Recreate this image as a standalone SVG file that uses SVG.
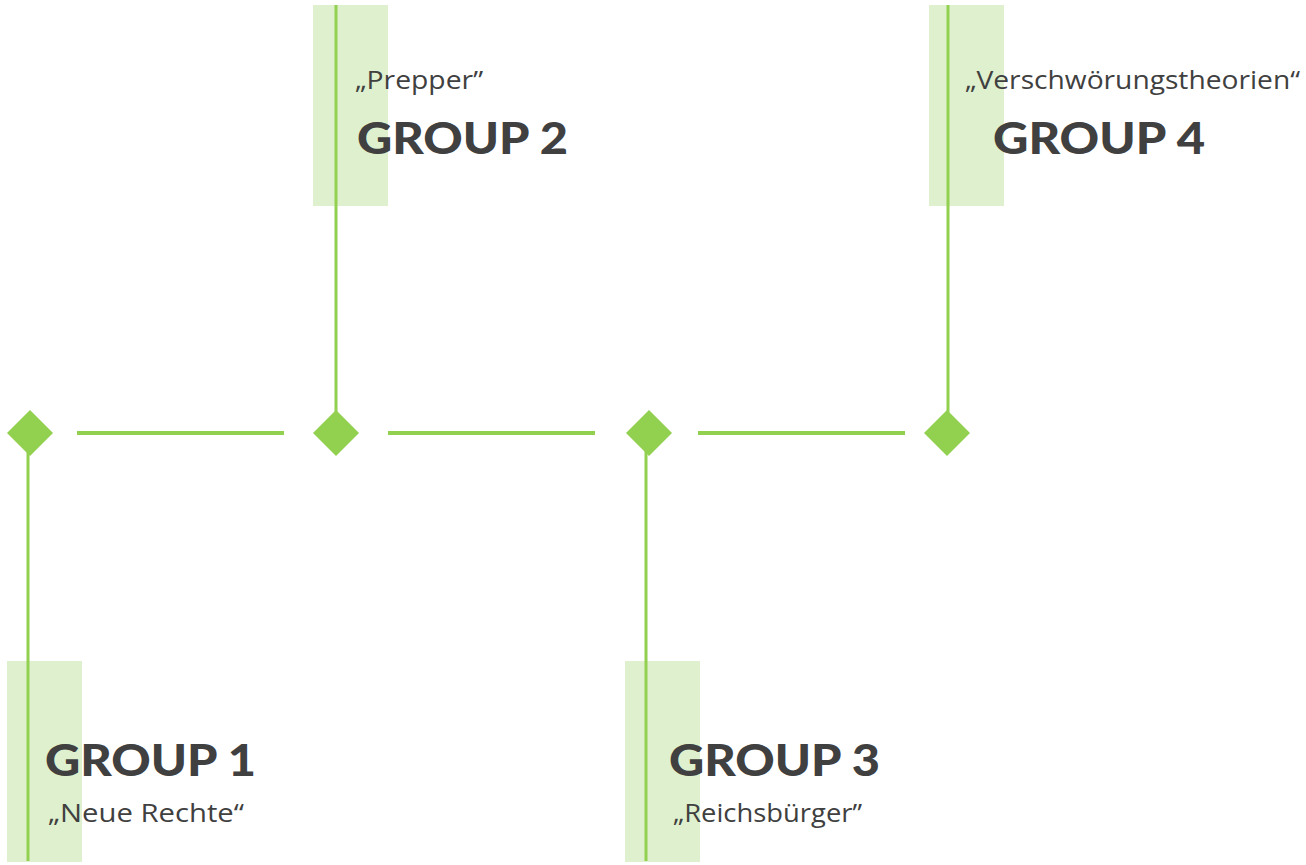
<svg xmlns="http://www.w3.org/2000/svg" width="1306" height="865" viewBox="0 0 1306 865">
<style>
.band{fill:#DEF0CD}
.stem{stroke:#92D050;stroke-width:3;fill:none}
.link{stroke:#92D050;stroke-width:4;fill:none}
.dia{fill:#92D050}
.title{font-family:Lato,"Liberation Sans",sans-serif;font-weight:900;font-size:44px;fill:#404040}
.sub{font-family:"Open Sans","Liberation Sans",sans-serif;font-size:25px;fill:#404040}
</style>
<rect width="1306" height="865" fill="#fff"/>
<g id="group1">
<rect class="band" x="7" y="661" width="75" height="201"/>
<line class="stem" x1="28" y1="440" x2="28" y2="861"/>
<text class="title" x="45" y="776" textLength="211" lengthAdjust="spacingAndGlyphs">GROUP 1</text>
<text class="sub" x="48" y="822" textLength="196" lengthAdjust="spacingAndGlyphs">„Neue Rechte“</text>
</g>
<g id="group2">
<rect class="band" x="313" y="5" width="75" height="201"/>
<line class="stem" x1="336" y1="5" x2="336" y2="426"/>
<text class="sub" x="355" y="89" textLength="128" lengthAdjust="spacingAndGlyphs">„Prepper”</text>
<text class="title" x="357" y="154" textLength="211" lengthAdjust="spacingAndGlyphs">GROUP 2</text>
</g>
<g id="group3">
<rect class="band" x="625" y="661" width="75" height="201"/>
<line class="stem" x1="646" y1="440" x2="646" y2="861"/>
<text class="title" x="669" y="776" textLength="211" lengthAdjust="spacingAndGlyphs">GROUP 3</text>
<text class="sub" x="673" y="822" textLength="189" lengthAdjust="spacingAndGlyphs">„Reichsbürger”</text>
</g>
<g id="group4">
<rect class="band" x="929" y="5" width="75" height="201"/>
<line class="stem" x1="948" y1="5" x2="948" y2="426"/>
<text class="sub" x="965" y="89" textLength="335" lengthAdjust="spacingAndGlyphs">„Verschwörungstheorien“</text>
<text class="title" x="993" y="154" textLength="212" lengthAdjust="spacingAndGlyphs">GROUP 4</text>
</g>
<g id="connectors">
<line class="link" x1="77" y1="433" x2="284" y2="433"/>
<line class="link" x1="388" y1="433" x2="595" y2="433"/>
<line class="link" x1="698" y1="433" x2="905" y2="433"/>
</g>
<g id="diamonds">
<polygon class="dia" points="30,410 53,433 30,456 7,433"/>
<polygon class="dia" points="336,410 359,433 336,456 313,433"/>
<polygon class="dia" points="649,410 672,433 649,456 626,433"/>
<polygon class="dia" points="947,410 970,433 947,456 924,433"/>
</g>
</svg>
